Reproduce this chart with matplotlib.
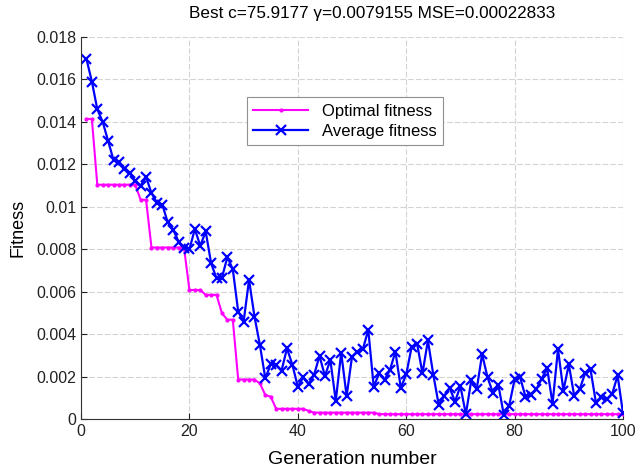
import matplotlib
matplotlib.use("Agg")
import matplotlib.pyplot as plt
from matplotlib.ticker import FuncFormatter

plt.rcParams['font.family'] = ['Liberation Sans', 'DejaVu Sans']

# geracoes e valores (em unidades de 1e-3)
geracoes = list(range(1, 101))

otima = [14.14, 14.14, 11.04, 11.04, 11.04, 11.04, 11.04, 11.04, 11.04, 11.04,
         10.33, 10.33, 8.08, 8.08, 8.08, 8.08, 8.08, 8.08, 8.08, 6.08,
         6.08, 6.08, 5.85, 5.85, 5.85, 4.98, 4.68, 4.68, 1.86, 1.86,
         1.86, 1.86, 1.68, 1.13, 1.05, 0.48, 0.48, 0.48, 0.48, 0.48,
         0.48, 0.38, 0.30, 0.30, 0.30, 0.30, 0.30, 0.30, 0.30, 0.30,
         0.30, 0.30, 0.30, 0.30, 0.228, 0.228, 0.228, 0.228, 0.228, 0.228,
         0.228, 0.228, 0.228, 0.228, 0.228, 0.228, 0.228, 0.228, 0.228, 0.228,
         0.228, 0.228, 0.228, 0.228, 0.228, 0.228, 0.228, 0.228, 0.228, 0.228,
         0.228, 0.228, 0.228, 0.228, 0.228, 0.228, 0.228, 0.228, 0.228, 0.228,
         0.228, 0.228, 0.228, 0.228, 0.228, 0.228, 0.228, 0.228, 0.228, 0.228]

media = [16.97, 15.9, 14.6, 14.0, 13.1, 12.2, 12.1, 11.8, 11.6, 11.2,
         11.0, 11.4, 10.65, 10.2, 10.1, 9.26, 8.92, 8.36, 8.05, 8.0,
         8.95, 8.16, 8.84, 7.34, 6.63, 6.66, 7.63, 7.06, 5.06, 4.59,
         6.56, 4.83, 3.49, 1.92, 2.58, 2.55, 2.28, 3.33, 2.55, 1.52,
         1.97, 1.64, 2.08, 2.97, 2.03, 2.78, 0.85, 3.13, 1.08, 2.94,
         3.18, 3.29, 4.2, 1.52, 2.15, 1.84, 2.31, 3.18, 1.47, 2.1,
         3.4, 3.55, 2.15, 3.7, 2.08, 0.66, 1.08, 1.48, 0.82, 1.55,
         0.22, 1.82, 1.4, 3.05, 1.97, 1.22, 1.6, 0.2, 0.63, 1.87,
         1.98, 1.05, 1.13, 1.4, 1.9, 2.39, 0.72, 3.29, 1.34, 2.57,
         1.08, 1.4, 2.15, 2.34, 0.77, 1.02, 0.93, 1.18, 2.05, 0.26]

x_ticks = [0, 20, 40, 60, 80, 100]
y_ticks = [0, 0.002, 0.004, 0.006, 0.008, 0.01, 0.012, 0.014, 0.016, 0.018]
titulo = 'Best c=75.9177 \u03b3=0.0079155 MSE=0.00022833'

fig = plt.figure(figsize=(6.36, 4.71), dpi=100)
ax = fig.add_axes([0.1274, 0.1104, 0.8522, 0.8110])

ax.plot(geracoes, [v * 1e-3 for v in otima], color='#ff00ff', linewidth=1.5,
        marker='.', markersize=4, label='Optimal fitness')
ax.plot(geracoes, [v * 1e-3 for v in media], color='#0000ff', linewidth=1.6,
        marker='x', markersize=6.5, markeredgewidth=1.6, label='Average fitness')

ax.set_xlim(0, 100)
ax.set_ylim(0, 0.018)
ax.set_xticks(x_ticks)
ax.set_yticks(y_ticks)
ax.yaxis.set_major_formatter(FuncFormatter(lambda v, p: '%g' % v))
ax.grid(True, color='#d4d4d4', linestyle=(0, (5, 2)), linewidth=0.8)
ax.set_axisbelow(True)

for lado in ['top', 'right']:
    ax.spines[lado].set_visible(False)
for lado in ['left', 'bottom']:
    ax.spines[lado].set_color('#333333')
ax.tick_params(direction='in', length=4, labelsize=11.5, colors='#222222')

ax.set_title(titulo, fontsize=12.3, pad=14, x=0.537)
ax.set_xlabel('Generation number', fontsize=14, labelpad=9)
ax.set_ylabel('Fitness', fontsize=13, labelpad=7)

leg = ax.legend(loc='center', bbox_to_anchor=(0.487, 0.78), fontsize=12,
                handlelength=3.3, fancybox=False, framealpha=1,
                edgecolor='#909090', borderpad=0.4, labelspacing=0.3)
leg.get_frame().set_linewidth(0.8)

fig.savefig('out.png', dpi=100)
